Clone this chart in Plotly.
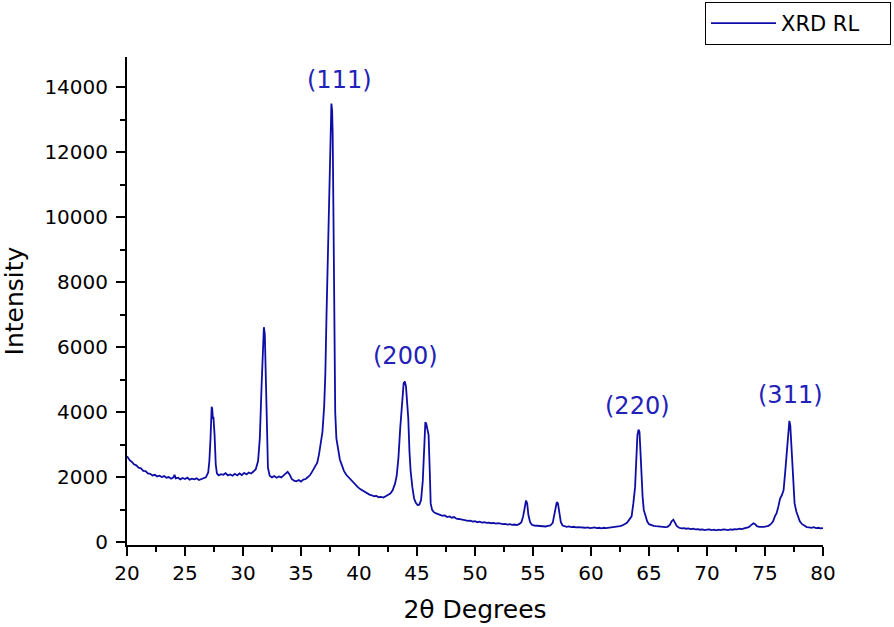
import plotly.graph_objects as go

# ---- data ----
two_theta = [
    20.0, 20.1, 20.25, 20.4, 20.6, 20.8, 21.0, 21.2, 21.4, 21.6, 21.8, 22.0, 22.2, 22.4, 22.6, 22.8,
    23.0, 23.2, 23.4, 23.6, 23.8, 24.0, 24.1, 24.2, 24.4, 24.6, 24.8, 25.0, 25.2, 25.4, 25.6, 25.8,
    26.0, 26.2, 26.4, 26.6, 26.8, 27.0, 27.1, 27.2, 27.3, 27.35, 27.4, 27.45, 27.55, 27.65, 27.75, 27.9,
    28.1, 28.3, 28.5, 28.7, 28.9, 29.1, 29.3, 29.5, 29.7, 29.9, 30.1, 30.3, 30.5, 30.7, 30.9, 31.1,
    31.3, 31.45, 31.6, 31.7, 31.8, 31.88, 31.95, 32.05, 32.15, 32.3, 32.5, 32.7, 32.9, 33.1, 33.3, 33.5,
    33.7, 33.85, 34.0, 34.2, 34.4, 34.6, 34.8, 35.0, 35.2, 35.4, 35.6, 35.8, 36.0, 36.2, 36.4, 36.55,
    36.7, 36.85, 37.0, 37.1, 37.2, 37.35, 37.45, 37.55, 37.62, 37.68, 37.73, 37.8, 37.87, 37.95, 38.05, 38.2,
    38.35, 38.5, 38.7, 38.9, 39.1, 39.3, 39.5, 39.7, 39.9, 40.1, 40.3, 40.5, 40.7, 40.9, 41.1, 41.3,
    41.5, 41.7, 41.9, 42.1, 42.3, 42.5, 42.7, 42.9, 43.1, 43.25, 43.4, 43.55, 43.7, 43.85, 43.95, 44.05,
    44.15, 44.25, 44.35, 44.45, 44.6, 44.75, 44.9, 45.05, 45.2, 45.35, 45.5, 45.62, 45.72, 45.8, 45.9, 46.0,
    46.1, 46.18, 46.3, 46.45, 46.6, 46.8, 47.0, 47.2, 47.4, 47.6, 47.8, 48.0, 48.2, 48.4, 48.6, 48.8,
    49.0, 49.2, 49.4, 49.6, 49.8, 50.0, 50.2, 50.4, 50.6, 50.8, 51.0, 51.2, 51.4, 51.6, 51.8, 52.0,
    52.2, 52.4, 52.6, 52.8, 53.0, 53.2, 53.4, 53.6, 53.8, 54.0, 54.15, 54.3, 54.4, 54.5, 54.6, 54.75,
    54.9, 55.1, 55.3, 55.5, 55.7, 55.9, 56.1, 56.3, 56.5, 56.7, 56.85, 56.95, 57.05, 57.15, 57.25, 57.4,
    57.55, 57.7, 57.9, 58.1, 58.3, 58.5, 58.7, 58.9, 59.1, 59.3, 59.5, 59.7, 59.9, 60.1, 60.3, 60.5,
    60.7, 60.9, 61.1, 61.3, 61.5, 61.7, 61.9, 62.1, 62.3, 62.5, 62.7, 62.9, 63.1, 63.3, 63.5, 63.65,
    63.8, 63.9, 64.0, 64.1, 64.18, 64.25, 64.35, 64.45, 64.55, 64.7, 64.85, 65.0, 65.2, 65.4, 65.6, 65.8,
    66.0, 66.2, 66.4, 66.6, 66.8, 66.95, 67.1, 67.25, 67.4, 67.6, 67.8, 68.0, 68.2, 68.4, 68.6, 68.8,
    69.0, 69.2, 69.4, 69.6, 69.8, 70.0, 70.2, 70.4, 70.6, 70.8, 71.0, 71.2, 71.4, 71.6, 71.8, 72.0,
    72.2, 72.4, 72.6, 72.8, 73.0, 73.2, 73.4, 73.6, 73.8, 74.0, 74.15, 74.3, 74.5, 74.7, 74.9, 75.1,
    75.3, 75.5, 75.7, 75.85, 76.0, 76.15, 76.3, 76.45, 76.6, 76.75, 76.9, 77.0, 77.1, 77.18, 77.27, 77.37,
    77.45, 77.55, 77.7, 77.85, 78.0, 78.2, 78.4, 78.6, 78.8, 79.0, 79.2, 79.4, 79.6, 79.8, 80.0,
]

intensity = [
    2650, 2580, 2520, 2480, 2400, 2370, 2300, 2280, 2200, 2190, 2120, 2110, 2060, 2080, 2030, 2050,
    2010, 2040, 1990, 2010, 1960, 2000, 2080, 1970, 1990, 1940, 1980, 1950, 1990, 1930, 1960, 1940,
    1970, 1920, 1950, 1960, 2000, 2150, 2500, 3200, 4170, 4100, 3800, 3860, 3300, 2400, 2120, 2060,
    2100, 2080, 2130, 2060, 2090, 2050, 2110, 2060, 2120, 2070, 2140, 2090, 2150, 2120, 2180, 2250,
    2500, 3200, 4800, 6000, 6620, 6400, 5500, 3500, 2300, 2050, 2000, 2040, 1990, 2030, 2000, 2060,
    2120, 2170, 2100, 1950, 1900, 1880, 1920, 1870, 1930, 1950, 2010, 2080, 2200, 2350, 2450, 2700,
    3000, 3400, 4200, 5200, 7000, 9600, 11500, 13100, 13500, 13300, 12600, 10000, 6500, 4000, 3200, 2800,
    2550, 2400, 2200, 2080, 2000, 1920, 1850, 1760, 1700, 1640, 1600, 1540, 1520, 1470, 1450, 1420,
    1430, 1390, 1400, 1380, 1420, 1450, 1500, 1600, 1800, 2050, 2600, 3500, 4300, 4900, 4950, 4800,
    4300, 3800, 2800, 2200, 1700, 1350, 1220, 1150, 1160, 1300, 1900, 2900, 3700, 3650, 3450, 3300,
    2200, 1200, 1000, 930, 900, 880, 850, 820, 830, 780, 800, 760, 780, 730, 720, 700,
    690, 680, 660, 670, 640, 650, 620, 640, 610, 620, 600, 610, 590, 600, 580, 590,
    570, 560, 570, 550, 560, 540, 550, 530, 560, 620, 800, 1150, 1290, 1200, 850, 620,
    540, 520, 510, 500, 510, 500, 490, 510, 520, 600, 850, 1100, 1240, 1200, 950, 620,
    520, 500, 480, 490, 470, 480, 460, 470, 460, 470, 450, 460, 440, 450, 460, 440,
    450, 430, 450, 440, 450, 460, 450, 470, 480, 500, 520, 560, 600, 700, 800, 1200,
    1700, 2500, 3300, 3470, 3400, 2900, 2000, 1400, 1000, 770, 640, 560, 530, 510, 500, 490,
    480, 470, 470, 480, 540, 650, 700, 600, 500, 450, 430, 440, 420, 430, 410, 420,
    400, 410, 390, 400, 380, 390, 400, 380, 390, 370, 390, 380, 400, 390, 380, 400,
    390, 410, 400, 420, 410, 430, 440, 470, 530, 590, 560, 500, 480, 470, 480, 490,
    510, 560, 650, 800, 900, 1100, 1350, 1450, 1600, 2200, 3000, 3500, 3740, 3600, 3000, 2000,
    1600, 1200, 950, 780, 650, 560, 500, 470, 460, 450, 470, 440, 450, 430, 440,
]

peak_labels = ["(111)", "(200)", "(220)", "(311)"]
peak_label_x = [38.28, 43.97, 64.05, 77.16]
peak_label_y = [14223, 5734, 4196, 4534]

x_range = [20, 80]
y_range = [-80, 14930]

LINE_COLOR = "#0e0ea6"
LABEL_COLOR = "#2222b8"
FONT = "DejaVu Sans"

fig = go.Figure()
fig.add_trace(go.Scatter(
    x=two_theta, y=intensity, mode="lines", name="XRD RL",
    line=dict(color=LINE_COLOR, width=1.8),
))

for txt, xx, yy in zip(peak_labels, peak_label_x, peak_label_y):
    fig.add_annotation(x=xx, y=yy, text=txt, showarrow=False,
                       font=dict(family=FONT, size=24, color=LABEL_COLOR),
                       xanchor="center", yanchor="middle")

axis_common = dict(
    showline=True, linecolor="black", linewidth=2,
    ticks="outside", ticklen=9, tickwidth=2, tickcolor="black",
    showgrid=False, zeroline=False, mirror=False,
    tickfont=dict(family=FONT, size=20, color="black"),
)

fig.update_xaxes(
    range=x_range, dtick=5, tick0=20,
    minor=dict(dtick=2.5, ticks="outside", ticklen=5, tickwidth=2, tickcolor="black", showgrid=False),
    title=dict(text="2θ Degrees", font=dict(family=FONT, size=25, color="black"), standoff=16),
    **axis_common,
)
fig.update_yaxes(
    range=y_range, dtick=2000, tick0=0, tickformat="d",
    minor=dict(dtick=1000, ticks="outside", ticklen=5, tickwidth=2, tickcolor="black", showgrid=False),
    title=dict(text="Intensity", font=dict(family=FONT, size=25, color="black"), standoff=22),
    ticklabelstandoff=4,
    **axis_common,
)

fig.update_layout(
    width=894, height=627,
    margin=dict(l=127, r=71, t=57, b=82, autoexpand=False),
    paper_bgcolor="white", plot_bgcolor="white",
    showlegend=True,
    legend=dict(
        x=1.0977, y=1.1127, xanchor="right", yanchor="top",
        orientation="h", entrywidth=104, entrywidthmode="pixels",
        bordercolor="black", borderwidth=1, bgcolor="white",
        font=dict(family=FONT, size=21, color="black"),
        itemwidth=65,
    ),
)

# remove the browser's default 8 px body margin so the figure sits at the page corner
fig.write_html("out.html", config={"displayModeBar": False},
               post_script="document.body.style.margin='0';")
